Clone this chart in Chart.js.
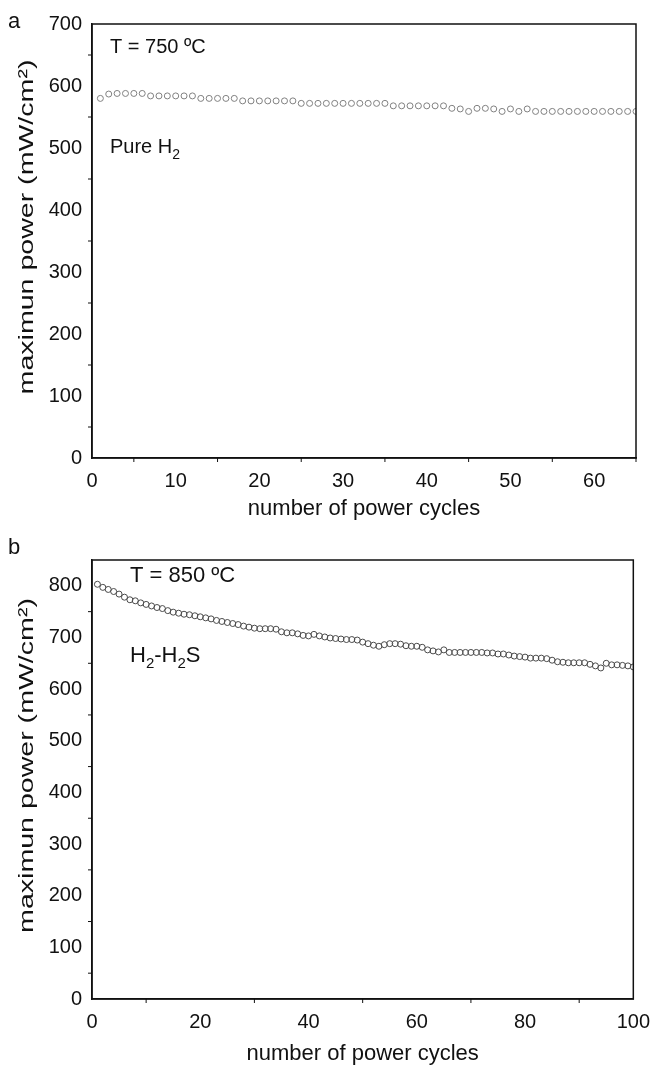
<!DOCTYPE html>
<html>
<head>
<meta charset="utf-8">
<script src="https://cdn.jsdelivr.net/npm/chart.js@4/dist/chart.umd.min.js"></script>
<style>
  html, body { margin: 0; padding: 0; background: #fff; }
  .panel { position: absolute; left: 0; }
</style>
</head>
<body>
<div class="panel" style="top:0"><canvas id="chartA" width="654" height="530"></canvas></div>
<div class="panel" style="top:530px"><canvas id="chartB" width="654" height="537"></canvas></div>
<script>
// panel a : pure H2, 750 C
const cyclesA = [1, 2, 3, 4, 5, 6, 7, 8, 9, 10, 11, 12, 13, 14, 15, 16, 17, 18, 19, 20,
  21, 22, 23, 24, 25, 26, 27, 28, 29, 30, 31, 32, 33, 34, 35, 36, 37, 38, 39, 40,
  41, 42, 43, 44, 45, 46, 47, 48, 49, 50, 51, 52, 53, 54, 55, 56, 57, 58, 59, 60,
  61, 62, 63, 64, 65]
const powerA = [580, 587, 588, 588, 588, 588, 584, 584, 584, 584, 584, 584, 580, 580, 580, 580, 580, 576, 576, 576,
  576, 576, 576, 576, 572, 572, 572, 572, 572, 572, 572, 572, 572, 572, 572, 568, 568, 568, 568, 568,
  568, 568, 564, 563, 559, 564, 564, 563, 559, 563, 559, 563, 559, 559, 559, 559, 559, 559, 559, 559,
  559, 559, 559, 559, 559]
const xTicksA = [0, 10, 20, 30, 40, 50, 60]
const xMinorA = [5, 15, 25, 35, 45, 55, 65]
const yTicksA = [0, 100, 200, 300, 400, 500, 600, 700]
const yMinorA = [50, 150, 250, 350, 450, 550, 650]

// panel b : H2-H2S, 850 C
const cyclesB = [1, 2, 3, 4, 5, 6, 7, 8, 9, 10, 11, 12, 13, 14, 15, 16, 17, 18, 19, 20,
  21, 22, 23, 24, 25, 26, 27, 28, 29, 30, 31, 32, 33, 34, 35, 36, 37, 38, 39, 40,
  41, 42, 43, 44, 45, 46, 47, 48, 49, 50, 51, 52, 53, 54, 55, 56, 57, 58, 59, 60,
  61, 62, 63, 64, 65, 66, 67, 68, 69, 70, 71, 72, 73, 74, 75, 76, 77, 78, 79, 80,
  81, 82, 83, 84, 85, 86, 87, 88, 89, 90, 91, 92, 93, 94, 95, 96, 97, 98, 99, 100]
const powerB = [803, 797, 793, 789, 784, 778, 773, 771, 767, 764,
  761, 758, 756, 752, 749, 747, 745, 744, 742, 740,
  738, 736, 733, 731, 729, 727, 725, 722, 720, 718,
  717, 717, 717, 716, 711, 709, 709, 707, 704, 703,
  706, 703, 701, 699, 698, 697, 696, 696, 695, 691,
  688, 685, 683, 686, 688, 688, 687, 684, 683, 683,
  681, 676, 674, 672, 676, 671, 671, 671, 671, 671,
  671, 671, 670, 670, 668, 668, 666, 664, 663, 662,
  660, 660, 660, 659, 656, 653, 652, 651, 651, 651,
  651, 648, 645, 641, 650, 647, 647, 646, 645, 643]
const xTicksB = [0, 20, 40, 60, 80, 100]
const xMinorB = [10, 30, 50, 70, 90]
const yTicksB = [0, 100, 200, 300, 400, 500, 600, 700, 800]
const yMinorB = [50, 150, 250, 350, 450, 550, 650, 750]

const yTitle = 'maximun power (mW/cm²)'
const xTitle = 'number of power cycles'

Chart.defaults.font.family = '"Liberation Sans", Arial, sans-serif'
Chart.defaults.color = '#111'

const FONT = 'px "Liberation Sans", Arial, sans-serif'

// box round the plot, minor ticks, y title, panel letter and notes
const framePlugin = {
  id: 'frame',
  afterDraw(chart, args, opts) {
    const { ctx, chartArea: a, scales: { x, y } } = chart
    ctx.save()
    ctx.strokeStyle = '#111'
    ctx.lineWidth = 1.5
    ctx.strokeRect(a.left, a.top, a.right - a.left, a.bottom - a.top)

    ctx.lineWidth = 1
    ctx.beginPath()
    opts.xMinor.forEach(v => {
      const px = x.getPixelForValue(v)
      ctx.moveTo(px, a.bottom); ctx.lineTo(px, a.bottom + 4)
    })
    opts.yMinor.forEach(v => {
      const py = y.getPixelForValue(v)
      ctx.moveTo(a.left, py); ctx.lineTo(a.left - 4, py)
    })
    ctx.stroke()

    ctx.fillStyle = '#111'
    ctx.textBaseline = 'middle'

    // y title, drawn stretched along its length like the scan
    ctx.save()
    ctx.translate(27, (a.top + a.bottom) / 2 - 14)
    ctx.rotate(-Math.PI / 2)
    ctx.scale(1.36, 1)
    ctx.font = '21' + FONT
    ctx.textAlign = 'center'
    ctx.fillText(yTitle, 0, 0)
    ctx.restore()

    ctx.font = '22' + FONT
    ctx.fillText(opts.letter, 8, opts.letterY)

    opts.notes.forEach(n => {
      let cx = n.x
      n.parts.forEach(p => {
        const size = p.sub ? Math.round(n.size * 0.7) : n.size
        ctx.font = size + FONT
        ctx.fillText(p.t, cx, n.y + (p.sub ? 8 : 0))
        cx += ctx.measureText(p.t).width
      })
    })
    ctx.restore()
  }
}

const makeChart = (id, cycles, power, cfg) => {
  const data = {
    datasets: [{
      data: cycles.map((c, i) => ({ x: c, y: power[i] })),
      showLine: false,
      pointStyle: 'circle',
      pointRadius: 3,
      pointBorderWidth: 1,
      pointBorderColor: cfg.pointColor,
      pointBackgroundColor: 'rgba(255,255,255,0)'
    }]
  }

  const options = {
    responsive: false,
    animation: false,
    layout: { padding: { top: cfg.top, right: 18, left: 0, bottom: 0 } },
    plugins: {
      legend: { display: false },
      tooltip: { enabled: false },
      frame: cfg.frame
    },
    scales: {
      x: {
        type: 'linear',
        min: 0,
        max: cfg.xMax,
        afterBuildTicks: s => { s.ticks = cfg.xTicks.map(v => ({ value: v })) },
        afterFit: s => { s.height = cfg.xHeight },
        grid: { display: false, drawTicks: true, tickLength: 7, tickColor: '#111', tickWidth: 1.5 },
        border: { display: true, color: '#111', width: 1.5 },
        ticks: { font: { size: 20 }, color: '#111', padding: 4, maxRotation: 0 },
        title: {
          display: true,
          text: xTitle,
          font: { size: 22 },
          color: '#111',
          padding: { top: 0, bottom: cfg.xTitlePad }
        }
      },
      y: {
        min: 0,
        max: cfg.yMax,
        afterBuildTicks: s => { s.ticks = cfg.yTicks.map(v => ({ value: v })) },
        afterFit: s => { s.width = 92 },
        grid: { display: false, drawTicks: true, tickLength: 7, tickColor: '#111', tickWidth: 1.5 },
        border: { display: true, color: '#111', width: 1.5 },
        ticks: { font: { size: 20 }, color: '#111', padding: 3 },
        title: { display: false }
      }
    }
  }

  new Chart(id, { type: 'scatter', data, options, plugins: [framePlugin] })
}

makeChart('chartA', cyclesA, powerA, {
  top: 24, xHeight: 72, xTitlePad: 8, xMax: 65, yMax: 700,
  xTicks: xTicksA, yTicks: yTicksA, pointColor: '#808080',
  frame: {
    xMinor: xMinorA, yMinor: yMinorA, letter: 'a', letterY: 22,
    notes: [
      { x: 110, y: 47, size: 20, parts: [{ t: 'T = 750 ºC' }] },
      { x: 110, y: 147, size: 20, parts: [{ t: 'Pure H' }, { t: '2', sub: true }] }
    ]
  }
})

makeChart('chartB', cyclesB, powerB, {
  top: 30, xHeight: 68, xTitlePad: 0, xMax: 100, yMax: 850,
  xTicks: xTicksB, yTicks: yTicksB, pointColor: '#4a4a4a',
  frame: {
    xMinor: xMinorB, yMinor: yMinorB, letter: 'b', letterY: 18,
    notes: [
      { x: 130, y: 46, size: 22, parts: [{ t: 'T = 850 ºC' }] },
      { x: 130, y: 126, size: 22, parts: [{ t: 'H' }, { t: '2', sub: true }, { t: '-H' }, { t: '2', sub: true }, { t: 'S' }] }
    ]
  }
})
</script>
</body>
</html>
